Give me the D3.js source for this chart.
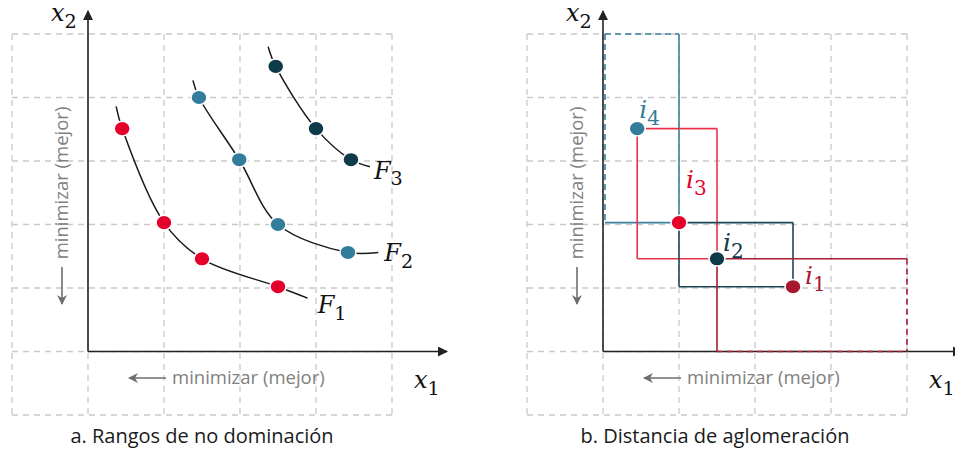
<!DOCTYPE html>
<html>
<head>
<meta charset="utf-8">
<script src="https://cdn.jsdelivr.net/npm/d3@7"></script>
<style>
  body { margin: 0; background: #fff; }
  svg { display: block; }
</style>
</head>
<body>
<svg id="chart"></svg>
<script>
// data (grid units, origin at the axes crossing)
var gridX = [-1, 0, 1, 2, 3, 4];
var gridY = [-1, 0, 1, 2, 3, 4, 5];

var frontNames = ['F1', 'F2', 'F3'];
var frontColors = ['#e4002b', '#327d9b', '#0f3a4a'];
var frontPoints = [
    [[0.45, 3.51], [1.0, 2.03], [1.5, 1.46], [2.5, 1.02]],
    [[1.46, 4.0], [1.99, 3.02], [2.5, 2.0], [3.42, 1.56]],
    [[2.47, 4.49], [3.0, 3.51], [3.46, 3.02]]
];
// where each front's curve starts and ends
var frontStart = [[0.37, 3.86], [1.38, 4.27], [2.37, 4.8]];
var frontEnd = [[2.89, 0.84], [3.82, 1.56], [3.71, 2.91]];

// crowding distance: the F1 solutions, named i1..i4
var solNames = ['i4', 'i3', 'i2', 'i1'];
var solColors = ['#327d9b', '#e4002b', '#0f3a4a', '#a6192e'];
var boxColors = ['#3a80a0', '#e8334c', '#1c4553', '#a81c35'];
var solPoints = [[0.45, 3.51], [1.0, 2.03], [1.5, 1.46], [2.5, 1.02]];
var boundMin = [0, 0], boundMax = [4, 5];

var captions = ['a. Rangos de no dominación', 'b. Distancia de aglomeración'];
var dirLabel = 'minimizar (mejor)';

var width = 955, height = 452;
var svg = d3.select('#chart').attr('width', width).attr('height', height);

var mathFont = '"DejaVu Serif", "Liberation Serif", serif';
var textFont = '"Open Sans", "Noto Sans", sans-serif';

svg.append('defs').append('marker')
    .attr('id', 'head')
    .attr('viewBox', '0 0 10 10')
    .attr('refX', 9).attr('refY', 5)
    .attr('markerWidth', 10).attr('markerHeight', 10)
    .attr('markerUnits', 'userSpaceOnUse')
    .attr('orient', 'auto')
    .append('path').attr('d', 'M0,0 L10,5 L0,10 Z').attr('fill', '#222');

svg.select('defs').append('marker')
    .attr('id', 'grayhead')
    .attr('viewBox', '0 0 10 10')
    .attr('refX', 9).attr('refY', 5)
    .attr('markerWidth', 11).attr('markerHeight', 10)
    .attr('markerUnits', 'userSpaceOnUse')
    .attr('orient', 'auto')
    .append('path').attr('d', 'M0,0 L10,5 L0,10 L3,5 Z').attr('fill', '#6f6f6f');

// subscript label like x_1, F_2, i_3
function mathLabel(g, x, y, base, sub, color, size) {
    var t = g.append('text')
        .attr('x', x).attr('y', y)
        .attr('font-family', mathFont)
        .attr('font-size', size)
        .attr('fill', color);
    t.append('tspan').attr('font-style', 'italic').text(base);
    t.append('tspan').attr('dy', size * 0.28).attr('font-size', size * 0.8).text(sub);
}

function drawFrame(left) {
    var xScale = d3.scaleLinear().domain([-1, 4]).range([left, left + 380]);
    var yScale = d3.scaleLinear().domain([-1, 5]).range([415, 34]);
    var g = svg.append('g');

    // dashed grid
    g.selectAll('.vgrid').data(gridX).enter().append('line')
        .attr('x1', function (d) { return xScale(d); })
        .attr('x2', function (d) { return xScale(d); })
        .attr('y1', yScale(5)).attr('y2', yScale(-1))
        .attr('stroke', '#c9c9c9').attr('stroke-width', 1.3)
        .attr('stroke-dasharray', '6,5');
    g.selectAll('.hgrid').data(gridY).enter().append('line')
        .attr('y1', function (d) { return yScale(d); })
        .attr('y2', function (d) { return yScale(d); })
        .attr('x1', xScale(-1)).attr('x2', xScale(4))
        .attr('stroke', '#c9c9c9').attr('stroke-width', 1.3)
        .attr('stroke-dasharray', '6,5');

    // axes with arrows
    g.append('line')
        .attr('x1', xScale(0)).attr('y1', yScale(0))
        .attr('x2', xScale(0)).attr('y2', 11)
        .attr('stroke', '#222').attr('stroke-width', 1.6)
        .attr('marker-end', 'url(#head)');
    g.append('line')
        .attr('x1', xScale(0)).attr('y1', yScale(0))
        .attr('x2', xScale(4) + 55).attr('y2', yScale(0))
        .attr('stroke', '#222').attr('stroke-width', 1.6)
        .attr('marker-end', 'url(#head)');

    mathLabel(g, xScale(0) - 37, 21, 'x', '2', '#111', 24);
    mathLabel(g, xScale(4) + 22, 388, 'x', '1', '#111', 24);

    // "minimizar (mejor)" hints
    var vx = xScale(0) - 26;
    g.append('text')
        .attr('transform', 'translate(' + (vx + 6) + ',183) rotate(-90)')
        .attr('text-anchor', 'middle')
        .attr('font-family', textFont).attr('font-size', 18.5)
        .attr('fill', '#808080')
        .text(dirLabel);
    g.append('line')
        .attr('x1', vx).attr('x2', vx).attr('y1', 267).attr('y2', 304)
        .attr('stroke', '#6f6f6f').attr('stroke-width', 1.6)
        .attr('marker-end', 'url(#grayhead)');

    g.append('text')
        .attr('x', xScale(0) + 84).attr('y', 384)
        .attr('font-family', textFont).attr('font-size', 18.5)
        .attr('fill', '#808080')
        .text(dirLabel);
    g.append('line')
        .attr('x1', xScale(0) + 78).attr('x2', xScale(0) + 41)
        .attr('y1', 378).attr('y2', 378)
        .attr('stroke', '#6f6f6f').attr('stroke-width', 1.6)
        .attr('marker-end', 'url(#grayhead)');

    return { g: g, x: xScale, y: yScale };
}

// ---- panel a: non-domination ranks
var pa = drawFrame(12);
var lineA = d3.line()
    .x(function (d) { return pa.x(d[0]); })
    .y(function (d) { return pa.y(d[1]); })
    .curve(d3.curveCatmullRom.alpha(0.5));

var frontLabelOffset = [[10, 15], [6, 9], [4, 12]];
frontNames.forEach(function (name, k) {
    var pts = [frontStart[k]].concat(frontPoints[k], [frontEnd[k]]);
    pa.g.append('path')
        .attr('d', lineA(pts))
        .attr('fill', 'none')
        .attr('stroke', '#1a1a1a')
        .attr('stroke-width', 1.5);
    pa.g.selectAll('.pt' + k).data(frontPoints[k]).enter().append('ellipse')
        .attr('cx', function (d) { return pa.x(d[0]); })
        .attr('cy', function (d) { return pa.y(d[1]); })
        .attr('rx', 8).attr('ry', 7.3)
        .attr('fill', frontColors[k])
        .attr('stroke', '#fff').attr('stroke-width', 1.5);
    var e = frontEnd[k];
    mathLabel(pa.g, pa.x(e[0]) + frontLabelOffset[k][0], pa.y(e[1]) + frontLabelOffset[k][1],
        'F', name.slice(1), '#111', 24);
});

// ---- panel b: crowding distance
var pb = drawFrame(527);
var sx = pb.x, sy = pb.y;

function seg(x1, y1, x2, y2, color, dashed) {
    pb.g.append('line')
        .attr('x1', x1).attr('y1', y1).attr('x2', x2).attr('y2', y2)
        .attr('stroke', color).attr('stroke-width', 1.6)
        .attr('stroke-dasharray', dashed ? '6,4' : null);
}

solPoints.forEach(function (p, k) {
    var prev = k > 0 ? solPoints[k - 1] : null;
    var next = k < solPoints.length - 1 ? solPoints[k + 1] : null;
    var xl = prev ? prev[0] : boundMin[0];
    var xr = next ? next[0] : boundMax[0];
    var yt = prev ? prev[1] : boundMax[1];
    var yb = next ? next[1] : boundMin[1];
    var c = boxColors[k];
    var L = sx(xl) + (prev ? 0 : 2), R = sx(xr), T = sy(yt), B = sy(yb);
    seg(L, T, R, T, c, !prev);   // top
    seg(L, T, L, B, c, !prev);   // left
    seg(R, T, R, B, c, !next);   // right
    seg(L, B, R, B, c, !next);   // bottom
});

var solLabelOffset = [[2, -11], [7, -35], [6, -8], [12, -3]];
solPoints.forEach(function (p, k) {
    pb.g.append('ellipse')
        .attr('cx', sx(p[0])).attr('cy', sy(p[1]))
        .attr('rx', 8).attr('ry', 7.3)
        .attr('fill', solColors[k])
        .attr('stroke', '#fff').attr('stroke-width', 1.5);
    mathLabel(pb.g, sx(p[0]) + solLabelOffset[k][0], sy(p[1]) + solLabelOffset[k][1],
        'i', solNames[k].slice(1), solColors[k], 25);
});

// captions
svg.selectAll('.caption').data(captions).enter().append('text')
    .attr('x', function (d, i) { return i === 0 ? 202 : 715; })
    .attr('y', 443)
    .attr('text-anchor', 'middle')
    .attr('font-family', textFont).attr('font-size', 20)
    .attr('fill', '#1a1a1a')
    .text(function (d) { return d; });
</script>
</body>
</html>
